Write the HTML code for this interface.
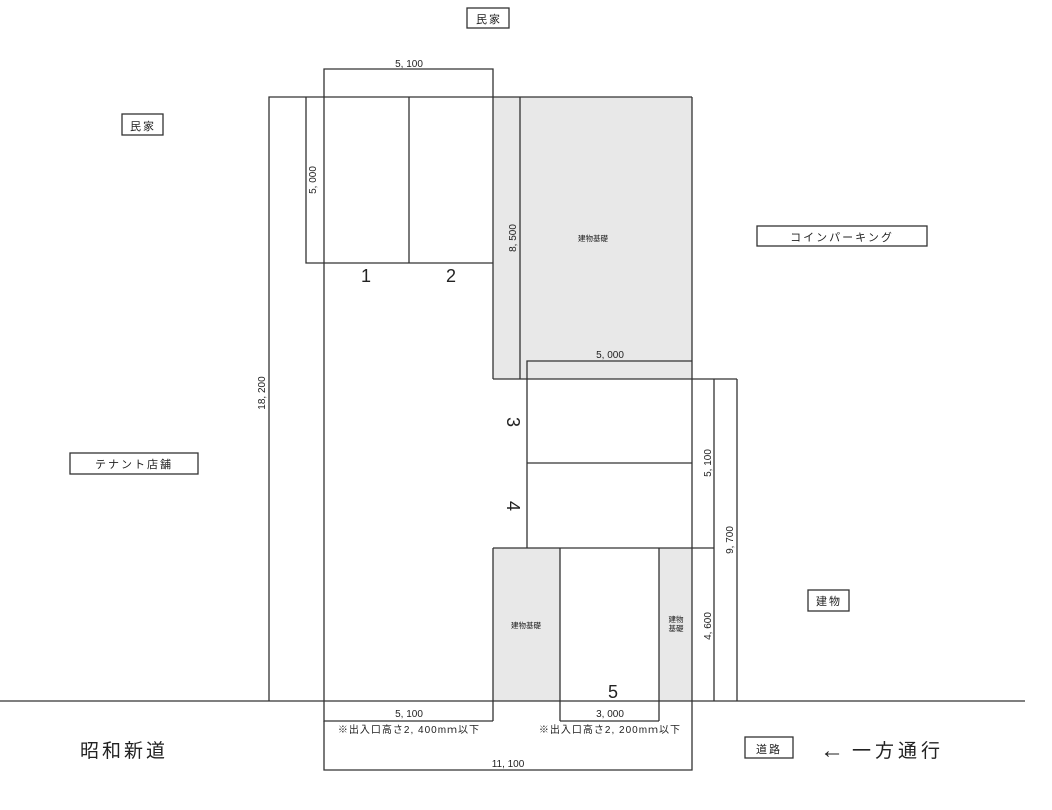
<!DOCTYPE html>
<html><head><meta charset="utf-8"><style>
html,body{margin:0;padding:0;background:#fff;}
svg{display:block;}
text{font-family:"Liberation Sans","Noto Sans CJK JP",sans-serif;fill:#222;}
</style></head><body>
<svg width="1052" height="810" viewBox="0 0 1052 810" xmlns="http://www.w3.org/2000/svg">
<g fill="#e8e8e8" stroke="none">
<rect x="493" y="97" width="199" height="282"/>
<rect x="493" y="548" width="67" height="153"/>
<rect x="659" y="548" width="33" height="153"/>
</g>
<g stroke="#333" stroke-width="1.3" fill="none">
<polyline points="324,97 324,69 493,69 493,97"/>
<polyline points="269,701 269,97 692,97"/>
<polyline points="306,97 306,263 493,263"/>
<line x1="409" y1="97" x2="409" y2="263"/>
<line x1="324" y1="97" x2="324" y2="701"/>
<line x1="493" y1="97" x2="493" y2="379"/>
<line x1="520" y1="97" x2="520" y2="379"/>
<line x1="692" y1="97" x2="692" y2="701"/>
<line x1="493" y1="379" x2="737" y2="379"/>
<polyline points="527,548 527,361 692,361"/>
<line x1="527" y1="463" x2="692" y2="463"/>
<line x1="493" y1="548" x2="714" y2="548"/>
<line x1="714" y1="379" x2="714" y2="701"/>
<line x1="737" y1="379" x2="737" y2="701"/>
<line x1="493" y1="548" x2="493" y2="721"/>
<line x1="560" y1="548" x2="560" y2="721"/>
<line x1="659" y1="548" x2="659" y2="721"/>
<line x1="0" y1="701" x2="1025" y2="701"/>
<polyline points="324,701 324,721 493,721"/>
<line x1="560" y1="721" x2="659" y2="721"/>
<polyline points="324,721 324,770 692,770 692,701"/>
<rect x="467" y="8" width="42" height="20"/>
<rect x="122" y="114" width="41" height="21"/>
<rect x="757" y="226" width="170" height="20"/>
<rect x="70" y="453" width="128" height="21"/>
<rect x="808" y="590" width="41" height="21"/>
<rect x="745" y="737" width="48" height="21"/>
</g>
<g font-size="10" text-anchor="middle">
<text x="409" y="67">5, 100</text>
<text x="610" y="358">5, 000</text>
<text x="409" y="717">5, 100</text>
<text x="610" y="717">3, 000</text>
<text x="508" y="767">11, 100</text>
<text transform="translate(316,180) rotate(-90)">5, 000</text>
<text transform="translate(516,238) rotate(-90)">8, 500</text>
<text transform="translate(265,393) rotate(-90)">18, 200</text>
<text transform="translate(711,463) rotate(-90)">5, 100</text>
<text transform="translate(733,540) rotate(-90)">9, 700</text>
<text transform="translate(711,626) rotate(-90)">4, 600</text>
<text x="409" y="733" letter-spacing="1">※出入口高さ2, 400mｍ以下</text>
<text x="610" y="733" letter-spacing="1">※出入口高さ2, 200mｍ以下</text>
</g>
<g font-size="7.5" text-anchor="middle">
<text x="593" y="241">建物基礎</text>
<text x="526" y="628">建物基礎</text>
<text x="676" y="622">建物</text>
<text x="676" y="631">基礎</text>
</g>
<g font-size="18" text-anchor="middle">
<text x="366" y="282">1</text>
<text x="451" y="282">2</text>
<text x="613" y="698">5</text>
<text transform="translate(507,422) rotate(90)">3</text>
<text transform="translate(507,506) rotate(90)">4</text>
</g>
<g font-size="11" text-anchor="middle" letter-spacing="2">
<text x="489" y="23">民家</text>
<text x="143" y="130">民家</text>
<text x="842" y="241">コインパーキング</text>
<text x="134" y="468">テナント店舗</text>
<text x="829" y="605">建物</text>
<text x="769" y="753">道路</text>
</g>
<text x="80" y="757" font-size="19" letter-spacing="3">昭和新道</text>
<text x="820" y="758" font-size="24">←</text>
<text x="852" y="757" font-size="19" letter-spacing="4">一方通行</text>
</svg>
</body></html>
